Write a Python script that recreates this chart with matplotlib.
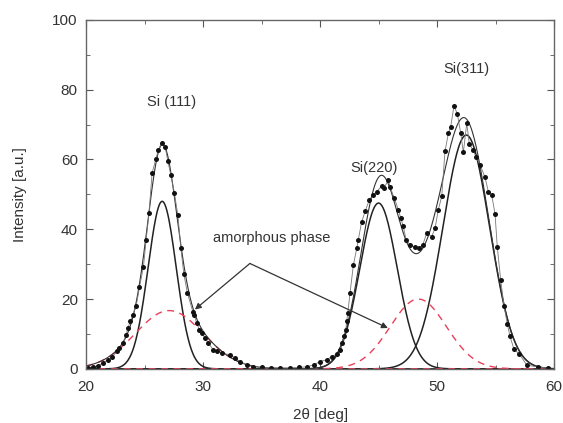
import numpy as np
import matplotlib.pyplot as plt

plt.rcParams['font.family'] = ['Liberation Sans', 'DejaVu Sans']

two_theta = [20.2, 20.57, 20.99, 21.42, 21.85, 22.22, 22.62, 22.85, 23.13, 23.42,
             23.56, 23.79, 23.99, 24.27, 24.56, 24.9, 25.13, 25.38, 25.64, 25.96,
             26.18, 26.47, 26.75, 26.98, 27.24, 27.55, 27.84, 28.1, 28.35, 28.66,
             29.12, 29.23, 29.46, 29.68, 29.89, 30.17, 30.45, 30.88, 31.22, 31.6,
             32.31, 32.74, 33.16, 33.73, 34.3, 35.0, 35.8, 36.6, 37.4, 38.2,
             38.9, 39.5, 40.0, 40.57, 41.0, 41.43, 41.71, 41.91, 42.05, 42.2,
             42.28, 42.37, 42.56, 42.85, 43.14, 43.27, 43.56, 43.85, 44.21, 44.56,
             44.85, 45.27, 45.47, 45.84, 45.98, 46.35, 46.69, 46.9, 47.12, 47.35,
             47.69, 48.12, 48.49, 48.78, 49.12, 49.55, 49.83, 50.11, 50.4, 50.68,
             50.97, 51.17, 51.45, 51.73, 52.02, 52.25, 52.54, 52.76, 53.05, 53.33,
             53.68, 54.1, 54.39, 54.67, 54.96, 55.15, 55.44, 55.73, 56.01, 56.24,
             56.58, 57.03, 57.67, 58.66, 59.51]
intensity = [0.3, 0.5, 0.9, 1.6, 2.6, 3.3, 5.0, 5.9, 7.4, 9.7,
             11.7, 13.6, 15.5, 17.9, 23.4, 29.3, 37.0, 44.8, 56.1, 60.1,
             62.8, 64.8, 63.7, 59.6, 55.6, 50.3, 44.1, 34.6, 27.2, 21.7,
             16.4, 15.5, 13.1, 11.2, 10.2, 8.8, 7.4, 5.4, 5.0, 4.5,
             4.0, 3.1, 2.1, 1.1, 0.6, 0.4, 0.3, 0.3, 0.3, 0.4,
             0.6, 1.2, 2.1, 2.6, 3.5, 4.3, 5.4, 7.4, 9.3, 11.2,
             13.6, 16.0, 21.7, 29.8, 34.6, 37.0, 42.2, 45.1, 48.4, 49.9,
             50.8, 52.4, 51.8, 54.2, 52.2, 48.9, 45.6, 43.2, 40.8, 37.0,
             35.5, 34.9, 34.6, 35.5, 38.9, 37.9, 40.3, 45.6, 49.4, 62.3,
             67.5, 69.4, 75.4, 73.1, 67.7, 62.0, 70.4, 64.5, 62.8, 60.8,
             58.5, 54.9, 50.8, 49.9, 44.4, 35.0, 25.5, 18.0, 12.9, 9.3,
             5.6, 4.3, 1.1, 0.5, 0.2]

# fitted gaussian components: Si(111), Si(220), Si(311)
peak_center = [26.5, 45.0, 52.5]
peak_height = [48.0, 47.5, 67.0]
peak_sigma = [1.2, 1.6, 2.0]

# amorphous components (red dashed)
amorph_center = [27.1, 48.4]
amorph_height = [16.7, 20.0]
amorph_sigma = [2.9, 2.4]

peak_labels = ["Si (111)", "Si(220)", "Si(311)"]
label_pos = [(27.3, 76.5), (44.6, 57.5), (52.5, 86)]


def gauss(x, c, h, s):
    return h * np.exp(-(x - c) ** 2 / (2 * s ** 2))


x = np.linspace(20, 60, 800)

fig = plt.figure(figsize=(5.63, 4.23), dpi=100)
ax = fig.add_axes([0.153, 0.128, 0.831, 0.825])

total = np.zeros_like(x)
for c, h, s in zip(peak_center, peak_height, peak_sigma):
    y = gauss(x, c, h, s)
    total += y
    ax.plot(x, y, color="#222222", lw=1.1)
for c, h, s in zip(amorph_center, amorph_height, amorph_sigma):
    y = gauss(x, c, h, s)
    total += y
    ax.plot(x, y, color="#e8415a", lw=1.0, ls=(0, (5, 4)))

ax.plot(x, total, color="#333333", lw=0.8)
ax.plot(two_theta, intensity, color="#777777", lw=0.6)
ax.plot(two_theta, intensity, "o", color="#111111", ms=3.6, mec="none")

for lab, (lx, ly) in zip(peak_labels, label_pos):
    ax.text(lx, ly, lab, fontsize=10.5, color="#333333", ha="center", va="center")

# amorphous phase annotation
ax.text(35.9, 37.5, "amorphous phase", fontsize=10.5, color="#333333",
        ha="center", va="center")
apex = (34.0, 30.2)
ax.annotate("", xy=(29.3, 17.0), xytext=apex,
            arrowprops=dict(arrowstyle="-|>", color="#333333", lw=0.9,
                            mutation_scale=9, shrinkA=0, shrinkB=0))
ax.annotate("", xy=(45.8, 11.7), xytext=apex,
            arrowprops=dict(arrowstyle="-|>", color="#333333", lw=0.9,
                            mutation_scale=9, shrinkA=0, shrinkB=0))

ax.set_xlim(20, 60)
ax.set_ylim(0, 100)
ax.set_xticks([20, 30, 40, 50, 60])
ax.set_yticks([0, 20, 40, 60, 80, 100])
ax.set_xticks(np.arange(25, 60, 10), minor=True)
ax.set_yticks(np.arange(10, 100, 20), minor=True)
ax.tick_params(which="both", direction="in", top=True, right=True,
               colors="#555555", labelcolor="#333333", labelsize=11)
ax.tick_params(which="major", length=5)
ax.tick_params(which="minor", length=3)
ax.tick_params(axis="x", pad=8)
ax.tick_params(axis="y", pad=6)
for sp in ax.spines.values():
    sp.set_color("#666666")
    sp.set_linewidth(1.0)

ax.set_xlabel("2θ [deg]", fontsize=11, color="#333333", labelpad=10)
ax.set_ylabel("Intensity [a.u.]", fontsize=11, color="#333333", labelpad=18)

fig.savefig("out.png", dpi=100)
